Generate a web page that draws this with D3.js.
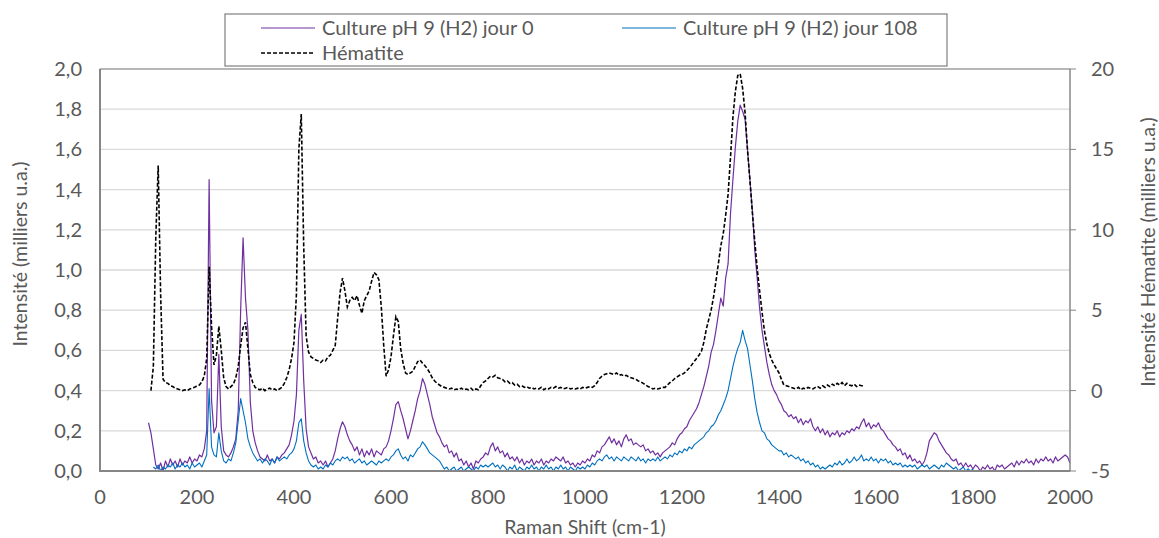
<!DOCTYPE html>
<html><head><meta charset="utf-8">
<script src="https://cdn.jsdelivr.net/npm/d3@7"></script>
<style>body{margin:0;background:#fff}svg{display:block}text{font-family:Lato,"Open Sans",sans-serif;fill:#595959}</style>
</head><body><svg id="c" width="1159" height="538"></svg>
<script>
// Sample grid (cm-1), every 5 cm-1 from 100 to 2000
const xStart = 100, xStep = 5;
const seriesNames = ["Culture pH 9 (H2) jour 0", "Culture pH 9 (H2) jour 108", "Hématite"];
const leftTicks = [0,0.2,0.4,0.6,0.8,1.0,1.2,1.4,1.6,1.8,2.0];
const rightTicks = [-5,0,5,10,15,20];
const xTicks = [0,200,400,600,800,1000,1200,1400,1600,1800,2000];

// Culture jour 0 (milliers u.a., left axis)
const jour0 = [
0.24,0.19,0.11,0.03,0.01,0.04,0.00,0.05,0.02,0.06,0.03,0.05,0.02,0.06,0.03,0.05,0.04,0.07,0.04,0.06,
0.05,0.08,0.07,0.11,0.20,1.45,0.35,0.19,0.22,0.58,0.22,0.10,0.08,0.07,0.09,0.12,0.16,0.30,0.80,1.16,
0.86,0.70,0.34,0.20,0.14,0.10,0.07,0.06,0.05,0.08,0.05,0.06,0.04,0.07,0.06,0.08,0.09,0.11,0.13,0.18,
0.25,0.38,0.70,0.78,0.45,0.21,0.12,0.09,0.06,0.07,0.04,0.05,0.03,0.05,0.02,0.04,0.06,0.10,0.16,0.21,
0.245,0.22,0.18,0.15,0.13,0.10,0.12,0.08,0.11,0.07,0.10,0.08,0.11,0.07,0.10,0.09,0.08,0.11,0.12,0.15,
0.20,0.26,0.33,0.345,0.30,0.26,0.21,0.16,0.20,0.25,0.30,0.36,0.40,0.46,0.43,0.38,0.33,0.27,0.23,0.19,
0.17,0.14,0.12,0.13,0.09,0.10,0.07,0.09,0.05,0.06,0.03,0.05,0.02,0.04,0.01,0.05,0.04,0.06,0.07,0.09,
0.08,0.12,0.14,0.10,0.12,0.09,0.10,0.07,0.09,0.06,0.07,0.05,0.07,0.04,0.06,0.03,0.05,0.04,0.06,0.03,
0.05,0.04,0.06,0.03,0.05,0.04,0.06,0.05,0.07,0.06,0.05,0.07,0.04,0.05,0.03,0.04,0.02,0.04,0.03,0.05,
0.04,0.06,0.05,0.08,0.07,0.10,0.09,0.12,0.13,0.15,0.17,0.14,0.16,0.13,0.15,0.12,0.16,0.18,0.15,0.16,
0.13,0.14,0.13,0.12,0.13,0.10,0.11,0.09,0.10,0.08,0.09,0.07,0.09,0.10,0.11,0.12,0.14,0.13,0.16,0.18,
0.19,0.21,0.22,0.25,0.27,0.29,0.31,0.34,0.38,0.42,0.47,0.52,0.59,0.63,0.70,0.78,0.86,0.82,0.96,1.03,
1.28,1.45,1.61,1.74,1.82,1.79,1.75,1.60,1.45,1.30,1.10,0.96,0.81,0.70,0.62,0.54,0.48,0.43,0.40,0.38,
0.35,0.33,0.30,0.29,0.27,0.28,0.26,0.27,0.24,0.26,0.23,0.25,0.24,0.26,0.22,0.20,0.22,0.19,0.21,0.18,
0.20,0.17,0.19,0.18,0.20,0.17,0.19,0.18,0.20,0.19,0.21,0.20,0.22,0.21,0.24,0.26,0.22,0.24,0.21,0.23,
0.22,0.24,0.21,0.20,0.18,0.16,0.15,0.13,0.12,0.10,0.11,0.08,0.09,0.06,0.08,0.05,0.06,0.04,0.05,0.03,
0.05,0.09,0.15,0.17,0.19,0.18,0.15,0.13,0.11,0.09,0.08,0.06,0.05,0.06,0.03,0.04,0.02,0.04,0.02,0.03,
0.01,0.03,0.02,0.00,0.02,0.01,0.03,0.01,0.02,0.00,0.03,0.02,0.03,0.01,0.02,0.03,0.04,0.02,0.05,0.03,
0.05,0.04,0.06,0.04,0.05,0.03,0.06,0.04,0.06,0.05,0.07,0.05,0.06,0.04,0.07,0.05,0.06,0.07,0.08,0.07,
0.04];

// Culture jour 108 (milliers u.a., left axis)
const jour108 = [
null,null,0.02,0.01,0.03,0.00,0.02,0.01,0.03,0.02,0.04,0.01,0.03,0.02,0.04,0.02,0.03,0.01,0.04,0.02,
0.03,0.04,0.02,0.05,0.08,0.41,0.12,0.08,0.07,0.19,0.10,0.05,0.04,0.06,0.05,0.09,0.14,0.25,0.36,0.30,
0.24,0.16,0.12,0.09,0.07,0.05,0.06,0.04,0.06,0.05,0.03,0.06,0.04,0.07,0.05,0.06,0.07,0.06,0.08,0.09,
0.11,0.15,0.24,0.26,0.15,0.09,0.05,0.03,0.02,0.03,0.01,0.02,0.01,0.03,0.02,0.04,0.03,0.05,0.06,0.05,
0.07,0.06,0.07,0.05,0.06,0.04,0.05,0.06,0.04,0.05,0.03,0.04,0.05,0.04,0.03,0.05,0.04,0.05,0.06,0.05,
0.07,0.08,0.10,0.11,0.08,0.06,0.07,0.05,0.08,0.07,0.09,0.11,0.12,0.145,0.13,0.11,0.09,0.08,0.07,0.06,
0.05,0.03,0.01,0.02,0.00,0.01,0.02,0.00,0.01,0.02,0.00,0.01,0.02,0.01,0.00,0.02,0.01,0.03,0.02,0.03,
0.02,0.03,0.04,0.02,0.03,0.01,0.03,0.02,0.00,0.02,0.01,0.03,0.00,0.02,0.01,0.00,0.02,0.01,0.03,0.01,
0.02,0.00,0.02,0.01,0.03,0.01,0.02,0.00,0.02,0.01,0.03,0.01,0.02,0.00,0.02,0.01,0.00,0.02,0.01,0.02,
0.01,0.03,0.02,0.04,0.03,0.05,0.06,0.05,0.07,0.08,0.06,0.07,0.05,0.07,0.06,0.05,0.07,0.06,0.05,0.07,
0.06,0.05,0.07,0.05,0.06,0.04,0.06,0.05,0.06,0.05,0.07,0.05,0.06,0.07,0.06,0.08,0.07,0.09,0.08,0.10,
0.09,0.11,0.10,0.12,0.11,0.13,0.14,0.15,0.16,0.17,0.19,0.20,0.22,0.23,0.25,0.28,0.30,0.33,0.36,0.40,
0.46,0.52,0.57,0.61,0.64,0.70,0.65,0.61,0.53,0.45,0.36,0.29,0.24,0.20,0.19,0.16,0.15,0.13,0.12,0.11,
0.10,0.10,0.08,0.09,0.07,0.08,0.07,0.06,0.07,0.05,0.06,0.04,0.05,0.03,0.04,0.02,0.03,0.01,0.02,0.01,
0.02,0.03,0.02,0.04,0.03,0.05,0.03,0.04,0.06,0.04,0.05,0.07,0.05,0.06,0.08,0.05,0.06,0.05,0.07,0.05,
0.06,0.04,0.06,0.05,0.06,0.04,0.05,0.03,0.04,0.03,0.04,0.02,0.03,0.02,0.03,0.02,0.03,0.01,0.02,0.03,
0.02,0.03,0.01,0.02,0.03,0.02,0.01,0.03,0.02,0.04,0.03,0.02,0.01,0.02,0.00,0.01,0.02,0.00,0.01,0.00,
0.01];

// Hématite (milliers u.a., right axis)
const hematite = [
null,0.0,1.5,9.5,14.0,6.0,0.7,0.5,0.45,0.3,0.25,0.15,0.1,0.05,0.0,0.05,0.0,0.1,0.15,0.2,
0.3,0.35,0.55,0.9,2.0,7.7,4.0,1.6,2.2,4.0,2.5,0.8,0.25,0.1,0.25,0.4,0.8,1.5,2.8,3.9,
4.25,2.6,1.0,0.5,0.2,0.1,0.05,0.15,0.0,0.1,0.15,0.05,0.1,0.0,0.1,0.2,0.45,0.8,1.3,2.0,
3.0,6.0,15.0,17.2,9.0,3.4,2.4,2.1,2.0,1.9,1.85,1.75,1.9,1.85,2.1,2.2,2.5,2.8,4.5,6.1,
7.0,6.2,5.2,5.6,5.8,5.6,5.9,5.3,4.8,5.6,5.9,6.2,6.8,7.35,7.2,6.9,5.2,2.8,0.9,1.3,
2.1,3.4,4.6,4.3,2.6,1.7,1.1,1.0,1.1,1.2,1.5,1.8,1.9,1.7,1.55,1.35,1.1,0.8,0.6,0.45,
0.35,0.25,0.2,0.15,0.1,0.15,0.05,0.1,0.05,0.15,0.05,0.1,0.05,0.15,0.0,0.1,0.05,0.3,0.5,0.6,
0.75,0.9,0.85,0.95,0.8,0.75,0.7,0.55,0.6,0.45,0.5,0.35,0.4,0.25,0.3,0.2,0.25,0.15,0.2,0.1,
0.15,0.1,0.2,0.05,0.15,0.1,0.2,0.15,0.25,0.15,0.2,0.1,0.15,0.2,0.1,0.15,0.1,0.15,0.1,0.2,
0.15,0.2,0.25,0.2,0.3,0.5,0.75,0.9,1.0,1.05,1.1,1.05,1.0,1.1,0.95,1.0,0.9,0.95,0.85,0.8,
0.75,0.7,0.6,0.55,0.45,0.35,0.25,0.2,0.1,0.15,0.1,0.15,0.2,0.2,0.35,0.5,0.6,0.75,0.85,0.95,
1.0,1.1,1.25,1.4,1.6,1.8,2.0,2.2,2.45,3.0,3.8,4.4,5.0,5.8,6.8,7.9,9.0,9.75,10.9,12.2,
14.5,17.0,18.6,19.6,19.7,18.8,17.3,15.0,13.1,11.1,9.3,7.6,6.2,4.9,3.7,2.9,2.3,1.9,1.6,1.35,
1.1,0.7,0.35,0.3,0.25,0.2,0.15,0.1,0.2,0.05,0.15,0.1,0.2,0.15,0.1,0.2,0.25,0.15,0.3,0.2,
0.35,0.25,0.4,0.3,0.45,0.35,0.5,0.3,0.45,0.35,0.3,0.4,0.25,0.35,0.3,0.3];

const colors = ["#7030A0", "#0070C0", "#000000"];

const svg = d3.select("#c");
const m = {l:100, r:1070, t:69, b:471};
const x = d3.scaleLinear().domain([0,2000]).range([m.l, m.r]);
const yL = d3.scaleLinear().domain([0,2]).range([m.b, m.t]);
const yR = d3.scaleLinear().domain([-5,20]).range([m.b, m.t]);
const fsTick = 20, fsTitle = 19.5, fsLegend = 20;

// gridlines
svg.append("g").selectAll("line").data(leftTicks.filter(v=>v>0)).join("line")
  .attr("x1", m.l).attr("x2", m.r).attr("y1", d=>yL(d)).attr("y2", d=>yL(d))
  .attr("stroke", "#d9d9d9").attr("stroke-width", 1.3);

// plot border
svg.append("rect").attr("x", m.l).attr("y", m.t).attr("width", m.r-m.l).attr("height", m.b-m.t)
  .attr("fill","none").attr("stroke","#8c8c8c").attr("stroke-width",1);

// series
const toPts = arr => arr.map((v,i)=>({x:xStart + i*xStep, v}));
const lineL = d3.line().defined(d=>d.v!==null).x(d=>x(d.x)).y(d=>yL(d.v));
const lineR = d3.line().defined(d=>d.v!==null).x(d=>x(d.x)).y(d=>yR(d.v));
svg.append("defs").append("clipPath").attr("id","clip").append("rect")
  .attr("x", m.l).attr("y", m.t-2).attr("width", m.r-m.l).attr("height", m.b-m.t+2);
const plot = svg.append("g").attr("clip-path","url(#clip)");
plot.append("path").datum(toPts(jour0)).attr("d", lineL).attr("fill","none")
  .attr("stroke", colors[0]).attr("stroke-width", 1.2).attr("stroke-linejoin","round");
plot.append("path").datum(toPts(jour108)).attr("d", lineL).attr("fill","none")
  .attr("stroke", colors[1]).attr("stroke-width", 1.1).attr("stroke-linejoin","round");
plot.append("path").datum(toPts(hematite)).attr("d", lineR).attr("fill","none")
  .attr("stroke", colors[2]).attr("stroke-width", 1.6).attr("stroke-dasharray","4,2");

// axes lines
svg.append("line").attr("x1", m.l).attr("x2", m.l).attr("y1", m.t).attr("y2", m.b+1)
  .attr("stroke","#868686").attr("stroke-width",2);
svg.append("line").attr("x1", m.l-1).attr("x2", m.r).attr("y1", m.b).attr("y2", m.b)
  .attr("stroke","#868686").attr("stroke-width",2);
svg.append("line").attr("x1", m.r).attr("x2", m.r).attr("y1", m.t).attr("y2", m.b)
  .attr("stroke","#868686").attr("stroke-width",1);

// left tick labels
const fmt = d3.format(".1f");
svg.append("g").selectAll("text").data(leftTicks).join("text")
  .attr("x", 82).attr("y", d=>yL(d)).attr("dy","0.35em").attr("text-anchor","end")
  .style("font-size", fsTick+"px").text(d=>fmt(d).replace(".",","));
// right ticks and labels
svg.append("g").selectAll("line").data(rightTicks).join("line")
  .attr("x1", m.r).attr("x2", m.r+6).attr("y1", d=>yR(d)).attr("y2", d=>yR(d))
  .attr("stroke","#868686").attr("stroke-width",1);
svg.append("g").selectAll("text").data(rightTicks).join("text")
  .attr("x", 1091).attr("y", d=>yR(d)).attr("dy","0.35em").attr("text-anchor","start")
  .style("font-size", fsTick+"px").text(d=>String(d));
// bottom labels
svg.append("g").selectAll("text").data(xTicks).join("text")
  .attr("x", d=>x(d)).attr("y", 497).attr("dy","0.35em").attr("text-anchor","middle")
  .style("font-size", fsTick+"px").text(d=>String(d));

// axis titles
svg.append("text").attr("transform","translate(20,254) rotate(-90)").attr("text-anchor","middle")
  .attr("dy","0.35em").style("font-size", fsTitle+"px").text("Intensité (milliers u.a.)");
svg.append("text").attr("transform","translate(1148,252) rotate(-90)").attr("text-anchor","middle")
  .attr("dy","0.35em").style("font-size", fsTitle+"px").text("Intensité Hématite (milliers u.a.)");
svg.append("text").attr("x", 585).attr("y", 527).attr("dy","0.35em").attr("text-anchor","middle")
  .style("font-size", fsTitle+"px").text("Raman Shift (cm-1)");

// legend
const lg = svg.append("g");
lg.append("rect").attr("x", 225).attr("y", 14).attr("width", 722).attr("height", 52)
  .attr("fill","#fff").attr("stroke","#7f7f7f").attr("stroke-width",1.2);
const legendItems = [
  {name: seriesNames[0], c: colors[0], x1: 261, y: 28, dash: null, w: 1.2},
  {name: seriesNames[1], c: colors[1], x1: 622, y: 28, dash: null, w: 1.1},
  {name: seriesNames[2], c: colors[2], x1: 261, y: 53, dash: "4,2", w: 1.6}
];
legendItems.forEach(it=>{
  lg.append("line").attr("x1", it.x1).attr("x2", it.x1+54).attr("y1", it.y).attr("y2", it.y)
    .attr("stroke", it.c).attr("stroke-width", it.w).attr("stroke-dasharray", it.dash);
  lg.append("text").attr("x", it.x1+61).attr("y", it.y).attr("dy","0.35em")
    .style("font-size", fsLegend+"px").text(it.name);
});
</script></body></html>
